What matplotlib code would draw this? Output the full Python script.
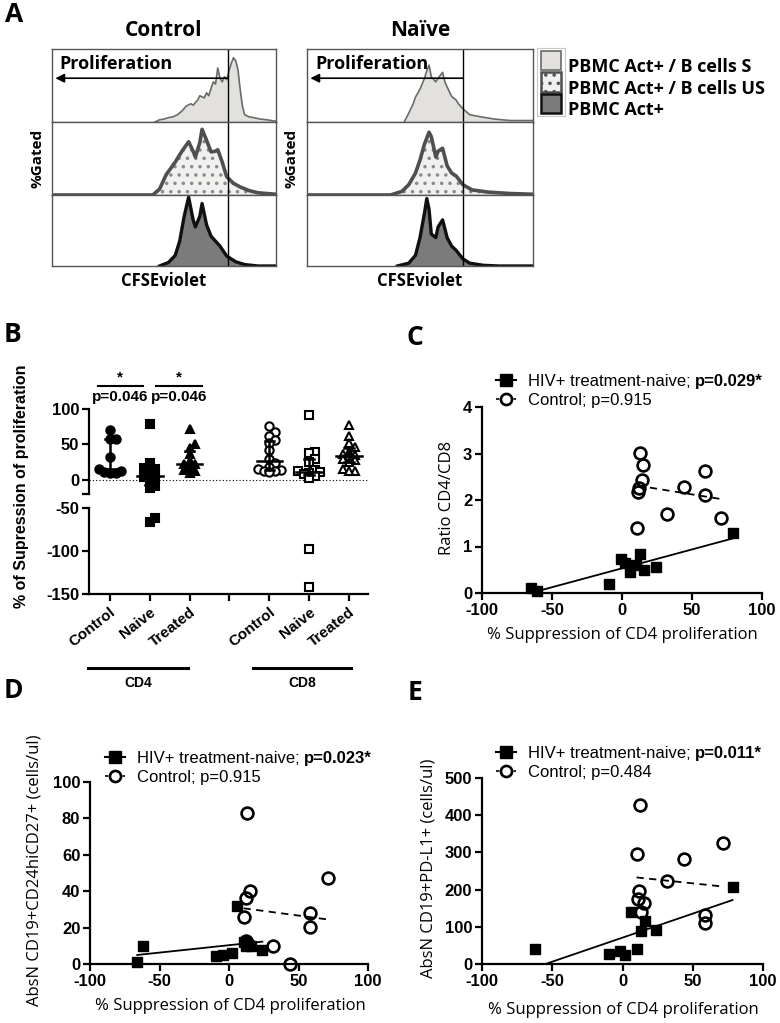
import numpy as np
import matplotlib
matplotlib.use("Agg")
import matplotlib.pyplot as plt
from matplotlib.lines import Line2D
from matplotlib.patches import Rectangle
from matplotlib.transforms import blended_transform_factory

plt.rcParams['font.family'] = ['Liberation Sans', 'DejaVu Sans']
plt.rcParams['font.weight'] = 'bold'
plt.rcParams['axes.unicode_minus'] = False
plt.rcParams['hatch.linewidth'] = 1.3

# =========================================
# PANEL A DATA  (x = fraction of CFSE box, h = fraction of row height)
# =========================================

ctrl_s_x = [0.46, 0.48, 0.50, 0.52, 0.54, 0.56, 0.58, 0.60, 0.62, 0.63, 0.65, 0.66, 0.68, 0.69,
            0.70, 0.71, 0.72, 0.73, 0.74, 0.75, 0.76, 0.77, 0.78, 0.79, 0.80, 0.81, 0.82, 0.83,
            0.84, 0.85, 0.86, 0.88, 0.90, 0.93, 0.96, 1.0]
ctrl_s_h = [0.0, 0.03, 0.04, 0.06, 0.07, 0.10, 0.15, 0.22, 0.25, 0.23, 0.30, 0.36, 0.33, 0.40,
            0.36, 0.46, 0.55, 0.52, 0.74, 0.60, 0.55, 0.62, 0.58, 0.70, 0.80, 0.88, 0.84, 0.72,
            0.45, 0.22, 0.10, 0.07, 0.06, 0.04, 0.03, 0.01]
ctrl_us_x = [0.45, 0.48, 0.51, 0.55, 0.58, 0.61, 0.63, 0.64, 0.66, 0.67, 0.69, 0.71, 0.73,
             0.74, 0.76, 0.78, 0.81, 0.84, 0.88, 0.92, 1.0]
ctrl_us_h = [0.0, 0.08, 0.28, 0.45, 0.60, 0.73, 0.60, 0.52, 0.72, 0.90, 0.75, 0.59, 0.60,
             0.62, 0.45, 0.25, 0.16, 0.11, 0.06, 0.03, 0.01]
ctrl_act_x = [0.48, 0.52, 0.55, 0.57, 0.59, 0.61, 0.63, 0.64, 0.66, 0.67, 0.69, 0.71, 0.73,
              0.75, 0.78, 0.82, 0.86, 0.92, 1.0]
ctrl_act_h = [0.0, 0.05, 0.15, 0.35, 0.70, 0.97, 0.65, 0.55, 0.70, 0.88, 0.58, 0.42, 0.35,
              0.28, 0.14, 0.06, 0.02, 0.0, 0.0]

naive_s_x = [0.43, 0.45, 0.47, 0.48, 0.50, 0.52, 0.53, 0.54, 0.55, 0.57, 0.58, 0.60, 0.61,
             0.62, 0.64, 0.66, 0.67, 0.69, 0.72, 0.77, 0.83, 0.90, 1.0]
naive_s_h = [0.0, 0.12, 0.25, 0.34, 0.45, 0.60, 0.70, 0.78, 0.62, 0.55, 0.60, 0.68, 0.55,
             0.48, 0.35, 0.30, 0.25, 0.18, 0.10, 0.07, 0.04, 0.02, 0.02]
naive_us_x = [0.37, 0.42, 0.45, 0.48, 0.50, 0.52, 0.54, 0.55, 0.57, 0.58, 0.60, 0.62, 0.64,
              0.66, 0.69, 0.73, 0.80, 0.90, 1.0]
naive_us_h = [0.0, 0.05, 0.14, 0.30, 0.48, 0.70, 0.86, 0.80, 0.52, 0.60, 0.64, 0.40, 0.30,
              0.26, 0.14, 0.07, 0.04, 0.02, 0.01]
naive_act_x = [0.40, 0.45, 0.48, 0.50, 0.52, 0.53, 0.54, 0.55, 0.57, 0.58, 0.60, 0.62, 0.64,
               0.66, 0.69, 0.72, 0.78, 0.85, 1.0]
naive_act_h = [0.0, 0.04, 0.15, 0.40, 0.75, 0.95, 0.80, 0.45, 0.40, 0.55, 0.65, 0.40, 0.28,
               0.22, 0.10, 0.04, 0.01, 0.0, 0.0]

gate_ctrl = 0.786
gate_naive = 0.69
a_legend = ['PBMC Act+ / B cells S', 'PBMC Act+ / B cells US', 'PBMC Act+']

# =========================================
# PANEL B DATA
# =========================================

b_xlabels = ['Control', 'Naive', 'Treated', '', 'Control', 'Naive', 'Treated']
cd4_control = [71, 58, 58, 32, 15, 13, 11, 10, 9]
cd4_naive = [79, 24, 17, 15, 13, 8, 6, 4, 1, -2, -9, -12, -62, -66]
cd4_treated = [72, 50, 45, 36, 27, 23, 22, 17, 14, 12, 10]
cd8_control = [76, 68, 62, 56, 52, 42, 30, 24, 18, 16, 14, 13, 12, 11]
cd8_naive = [91, 40, 38, 30, 25, 14, 12, 11, 10, 8, 6, 3, -98, -142]
cd8_treated = [77, 62, 52, 46, 40, 37, 35, 33, 30, 28, 25, 16, 13, 12]
b_pvalues = ['p=0.046', 'p=0.046']

# =========================================
# PANELS C-E DATA
# =========================================

c_naive_x = [-65, -61, -9, -1, 2, 6, 10, 13, 16, 24, 79]
c_naive_y = [0.11, 0.04, 0.19, 0.73, 0.64, 0.46, 0.60, 0.84, 0.49, 0.55, 1.30]
c_ctrl_x = [13, 15, 14, 12, 11.5, 11, 32, 44, 59, 59, 71]
c_ctrl_y = [3.02, 2.75, 2.44, 2.25, 2.18, 1.39, 1.70, 2.27, 2.62, 2.11, 1.61]

d_naive_x = [-66, -62, -9, -4, 2, 6, 11, 13, 16, 12, 24]
d_naive_y = [1, 10, 4.5, 5, 6, 32, 12, 11, 10, 10, 7.5]
d_ctrl_x = [13, 15, 12.5, 10.5, 12, 14, 32, 44, 58, 58, 71]
d_ctrl_y = [83, 40, 36, 26, 12.5, 11, 10, 0, 28, 20.5, 47]

e_naive_x = [-62, -9.4, -1.9, 2.1, 6.4, 10.4, 13, 16.3, 23.6, 78.3]
e_naive_y = [39.5, 27, 34, 25, 141, 40, 88, 115, 92, 206]
e_ctrl_x = [12.8, 10, 43.7, 71.3, 31.8, 11.9, 11.2, 15.2, 13.5, 58.7, 58.7]
e_ctrl_y = [428, 296, 283, 325, 222, 195, 174, 163, 141, 132, 110]

# =========================================
# FIGURE HELPERS (pixel layout, origin top-left)
# =========================================

W, H = 780, 1023
fig = plt.figure(figsize=(W / 100, H / 100), dpi=100)


def fx(x):
    return x / W


def fy(y):
    return 1 - y / H


def px_axes(x0, y0, x1, y1):
    return fig.add_axes([x0 / W, 1 - y1 / H, (x1 - x0) / W, (y1 - y0) / H])


OPEN = dict(family=['Open Sans', 'DejaVu Sans'])

# =========================================
# PANEL A
# =========================================

rows_y = [49, 122, 195, 266]
styles = [
    dict(fc='#e3e1dd', ec='#6a6a6a', lw=1.2, hatch=None, base=False),
    dict(fc='#f1f0ee', ec='#4f4f4f', lw=2.6, hatch='..', base=True),
    dict(fc='#7b7b7b', ec='#101010', lw=2.4, hatch=None, base=False),
]


def draw_sample(x0, x1, title, gate, curves):
    for r, ((cx, ch), st) in enumerate(zip(curves, styles)):
        ax = px_axes(x0, rows_y[r], x1, rows_y[r + 1])
        ax.set_xlim(0, 1)
        ax.set_ylim(0, 1)
        ax.set_xticks([])
        ax.set_yticks([])
        for s in ax.spines.values():
            s.set_color('#555555')
            s.set_linewidth(1)
        xs = np.asarray(cx, float)
        hs = np.asarray(ch, float)
        if st['base']:
            xs = np.concatenate([[0], xs])
            hs = np.concatenate([[0], hs])
        ax.fill_between(xs, hs, color=st['fc'], lw=0)
        if st['hatch']:
            ax.fill_between(xs, hs, facecolor='none', edgecolor='#8a8a8a',
                            hatch=st['hatch'], lw=0)
        ax.plot(xs, hs, color=st['ec'], lw=st['lw'], solid_joinstyle='round')
        ax.axvline(gate, color='k', lw=1)
        if r == 0:
            ax.annotate('', xy=(0.015, 0.60), xytext=(gate, 0.60),
                        arrowprops=dict(arrowstyle='-|>', color='k', lw=1.2,
                                        mutation_scale=13, shrinkA=0, shrinkB=0))
            ax.text(0.035, 0.80, 'Proliferation', fontsize=13, va='center', **OPEN)
    xc = (x0 + x1) / 2
    fig.text(fx(xc), fy(30), title, ha='center', va='center', fontsize=15, **OPEN)
    fig.text(fx(xc), fy(281), 'CFSEviolet', ha='center', va='center', fontsize=12, **OPEN)
    fig.text(fx(x0 - 15), fy(158), '%Gated', rotation=90, ha='center', va='center',
             fontsize=11, **OPEN)


draw_sample(52, 276, 'Control', gate_ctrl,
            [(ctrl_s_x, ctrl_s_h), (ctrl_us_x, ctrl_us_h), (ctrl_act_x, ctrl_act_h)])
draw_sample(307, 533, 'Naïve', gate_naive,
            [(naive_s_x, naive_s_h), (naive_us_x, naive_us_h), (naive_act_x, naive_act_h)])

# legend swatches
axl = px_axes(537, 48, 565, 116)
axl.set_xlim(0, 1)
axl.set_ylim(0, 1)
axl.set_xticks([])
axl.set_yticks([])
for s in axl.spines.values():
    s.set_color('#c8c8c8')
sw_bottoms = [0.67, 0.36, 0.04]
for b, st in zip(sw_bottoms, styles):
    axl.add_patch(Rectangle((0.13, b), 0.74, 0.28, fc=st['fc'], ec=st['ec'],
                            lw=min(st['lw'], 1.8), hatch=st['hatch']))
for lab, yb in zip(a_legend, [72, 93.5, 115]):
    fig.text(fx(568), fy(yb), lab, ha='left', va='baseline', fontsize=13, **OPEN)

fig.text(fx(5), fy(14), 'A', ha='left', va='center', fontsize=19, **OPEN)

# =========================================
# PANEL B
# =========================================


def swarm(vals, step, near):
    offs = np.zeros(len(vals))
    placed = []
    for i in np.argsort(vals):
        for k in [0, 1, -1, 2, -2, 3, -3]:
            dx = k * step
            if all(abs(vals[i] - vals[j]) >= near or abs(dx - offs[j]) >= step * 0.99
                   for j in placed):
                break
        offs[i] = dx
        placed.append(i)
    return offs


ax_up = px_axes(89, 409, 368, 494)
ax_lo = px_axes(89, 508, 368, 594)
for ax in (ax_up, ax_lo):
    ax.set_xlim(0.475, 7.475)
    ax.spines[['top', 'right']].set_visible(False)
    ax.spines['left'].set_linewidth(1.6)
    ax.tick_params(axis='y', length=5, width=1.6, labelsize=12, pad=2)
ax_up.spines['bottom'].set_visible(False)
ax_up.set_ylim(-20, 100)
ax_up.set_yticks([-20, 0, 50, 100], ['', '0', '50', '100'])
ax_up.tick_params(axis='x', bottom=False, labelbottom=False)
ax_up.axhline(0, color='k', lw=0.8, ls=(0, (1, 2)))
ax_lo.set_ylim(-150, -50)
ax_lo.set_yticks([-150, -100, -50])
ax_lo.spines['bottom'].set_linewidth(1.6)
ax_lo.set_xticks(range(1, 8), b_xlabels, rotation=38, ha='right',
                 rotation_mode='anchor', fontsize=11)
ax_lo.tick_params(axis='x', length=5, width=1.6, pad=3)

b_groups = [cd4_control, cd4_naive, cd4_treated, cd8_control, cd8_naive, cd8_treated]
b_pos = [1, 2, 3, 5, 6, 7]
b_markers = ['o', 's', '^', 'o', 's', '^']
b_filled = [True, True, True, False, False, False]

for vals, pos, mk, filled in zip(b_groups, b_pos, b_markers, b_filled):
    vals = np.asarray(vals, float)
    offs = swarm(vals, 0.14, 7)
    fc = 'k' if filled else 'white'
    up = vals >= -20
    kw = dict(ls='none', marker=mk, ms=6, mfc=fc, mec='k', mew=1.5, clip_on=False, zorder=3)
    ax_up.plot(pos + offs[up], vals[up], **kw)
    ax_lo.plot(pos + offs[~up], vals[~up], **kw)
    med = np.median(vals)
    q1, q3 = np.percentile(vals, [25, 75])
    lk = dict(color='k', lw=1.8, zorder=4, clip_on=False)
    ax_up.plot([pos - 0.32, pos + 0.32], [med, med], **lk)
    ax_up.plot([pos, pos], [q1, q3], **lk)
    ax_up.plot([pos - 0.12, pos + 0.12], [q1, q1], **lk)
    ax_up.plot([pos - 0.12, pos + 0.12], [q3, q3], **lk)

# significance brackets
sig_bars = [(0.7, 1.82), (2.15, 3.3)]
for (a, b), ptxt in zip(sig_bars, b_pvalues):
    c = (a + b) / 2
    ax_up.plot([a, b], [133, 133], color='k', lw=1.5, clip_on=False)
    ax_up.text(c, 134, '*', ha='center', va='bottom', fontsize=11)
    ax_up.text(c, 117, ptxt, ha='center', va='center', fontsize=11)

# CD4 / CD8 group bars
tr = blended_transform_factory(ax_lo.transData, fig.transFigure)
for (a, b), lab in zip([(0.45, 2.95), (4.58, 7.05)], ['CD4', 'CD8']):
    ax_lo.plot([a, b], [fy(668), fy(668)], transform=tr, color='k', lw=2.2, clip_on=False)
    ax_lo.text((a + b) / 2, fy(683), lab, transform=tr, ha='center', va='center', fontsize=10)

fig.text(fx(22), fy(486), '% of Supression of proliferation', rotation=90,
         ha='center', va='center', fontsize=11.5)
fig.text(fx(4), fy(335), 'B', ha='left', va='center', fontsize=19, **OPEN)

# =========================================
# PANELS C, D, E
# =========================================

bold_notes = []


def scatter_panel(box, ylim, yticks, nx, ny, cx, cy, ylabel, ylab_xy, xlab_xy,
                  p_naive, p_ctrl, leg_xy, letter, letter_xy):
    ax = px_axes(*box)
    ax.set_xlim(-100, 100)
    ax.set_ylim(*ylim)
    ax.set_xticks([-100, -50, 0, 50, 100])
    ax.set_yticks(yticks)
    ax.spines[['top', 'right']].set_visible(False)
    ax.spines[['left', 'bottom']].set_linewidth(1.6)
    ax.tick_params(length=5, width=1.6, labelsize=12, pad=2)

    for xs, ys, ls in [(nx, ny, '-'), (cx, cy, (0, (4, 3)))]:
        xs = np.asarray(xs, float)
        ys = np.asarray(ys, float)
        k, b0 = np.polyfit(xs, ys, 1)
        xl = np.array([xs.min(), xs.max()])
        ax.plot(xl, k * xl + b0, color='k', lw=1.3, ls=ls, zorder=2)

    ax.plot(cx, cy, ls='none', marker='o', ms=8.5, mfc='none', mec='k', mew=1.9,
            clip_on=False, zorder=3)
    ax.plot(nx, ny, ls='none', marker='s', ms=7.5, mfc='k', mec='k', clip_on=False, zorder=4)

    handles = [Line2D([], [], color='k', lw=1.5, marker='s', ms=8, mfc='k'),
               Line2D([], [], color='k', lw=1.2, ls=(0, (2, 1.5)), marker='o', ms=8,
                      mfc='white', mew=1.9)]
    leg = ax.legend(handles, ['HIV+ treatment-naive;', 'Control; ' + p_ctrl],
                    loc='center left', bbox_to_anchor=(fx(leg_xy[0]), fy(leg_xy[1])),
                    bbox_transform=fig.transFigure, frameon=False, borderpad=0,
                    borderaxespad=0, handlelength=1.2, handletextpad=0.7,
                    labelspacing=0.2, prop=dict(family='Liberation Sans', size=12,
                                                weight='normal'))
    bold_notes.append((leg, p_naive))

    fig.text(fx(ylab_xy[0]), fy(ylab_xy[1]), ylabel, rotation=90, ha='center',
             va='center', fontsize=12, weight='normal', **OPEN)
    fig.text(fx(xlab_xy[0]), fy(xlab_xy[1]), '% Suppression of CD4 proliferation',
             ha='center', va='center', fontsize=12, weight='normal', **OPEN)
    fig.text(fx(letter_xy[0]), fy(letter_xy[1]), letter, ha='left', va='center',
             fontsize=19, **OPEN)


scatter_panel((482, 407, 762, 593), (0, 4), [0, 1, 2, 3, 4],
              c_naive_x, c_naive_y, c_ctrl_x, c_ctrl_y, 'Ratio CD4/CD8',
              (447, 498), (622, 635), 'p=0.029*', 'p=0.915', (496, 391), 'C', (407, 338))
scatter_panel((90, 782, 368, 964), (0, 100), [0, 20, 40, 60, 80, 100],
              d_naive_x, d_naive_y, d_ctrl_x, d_ctrl_y, 'AbsN CD19+CD24hiCD27+ (cells/ul)',
              (35, 870), (230, 1006), 'p=0.023*', 'p=0.915', (105, 768), 'D', (4, 690))
scatter_panel((482, 778, 763, 964), (0, 500), [0, 100, 200, 300, 400, 500],
              e_naive_x, e_naive_y, e_ctrl_x, e_ctrl_y, 'AbsN CD19+PD-L1+ (cells/ul)',
              (428, 868), (623, 1010), 'p=0.011*', 'p=0.484', (496, 763), 'E', (408, 692))

# bold p-values right after the first legend entry
fig.canvas.draw()
for leg, ptxt in bold_notes:
    bb = leg.get_texts()[0].get_window_extent()
    fig.text((bb.x1 + 4.6) / W, bb.y0 / H, ptxt, ha='left', va='bottom', fontsize=12,
             family='Liberation Sans', weight='bold')

fig.savefig('out.png', dpi=100)
